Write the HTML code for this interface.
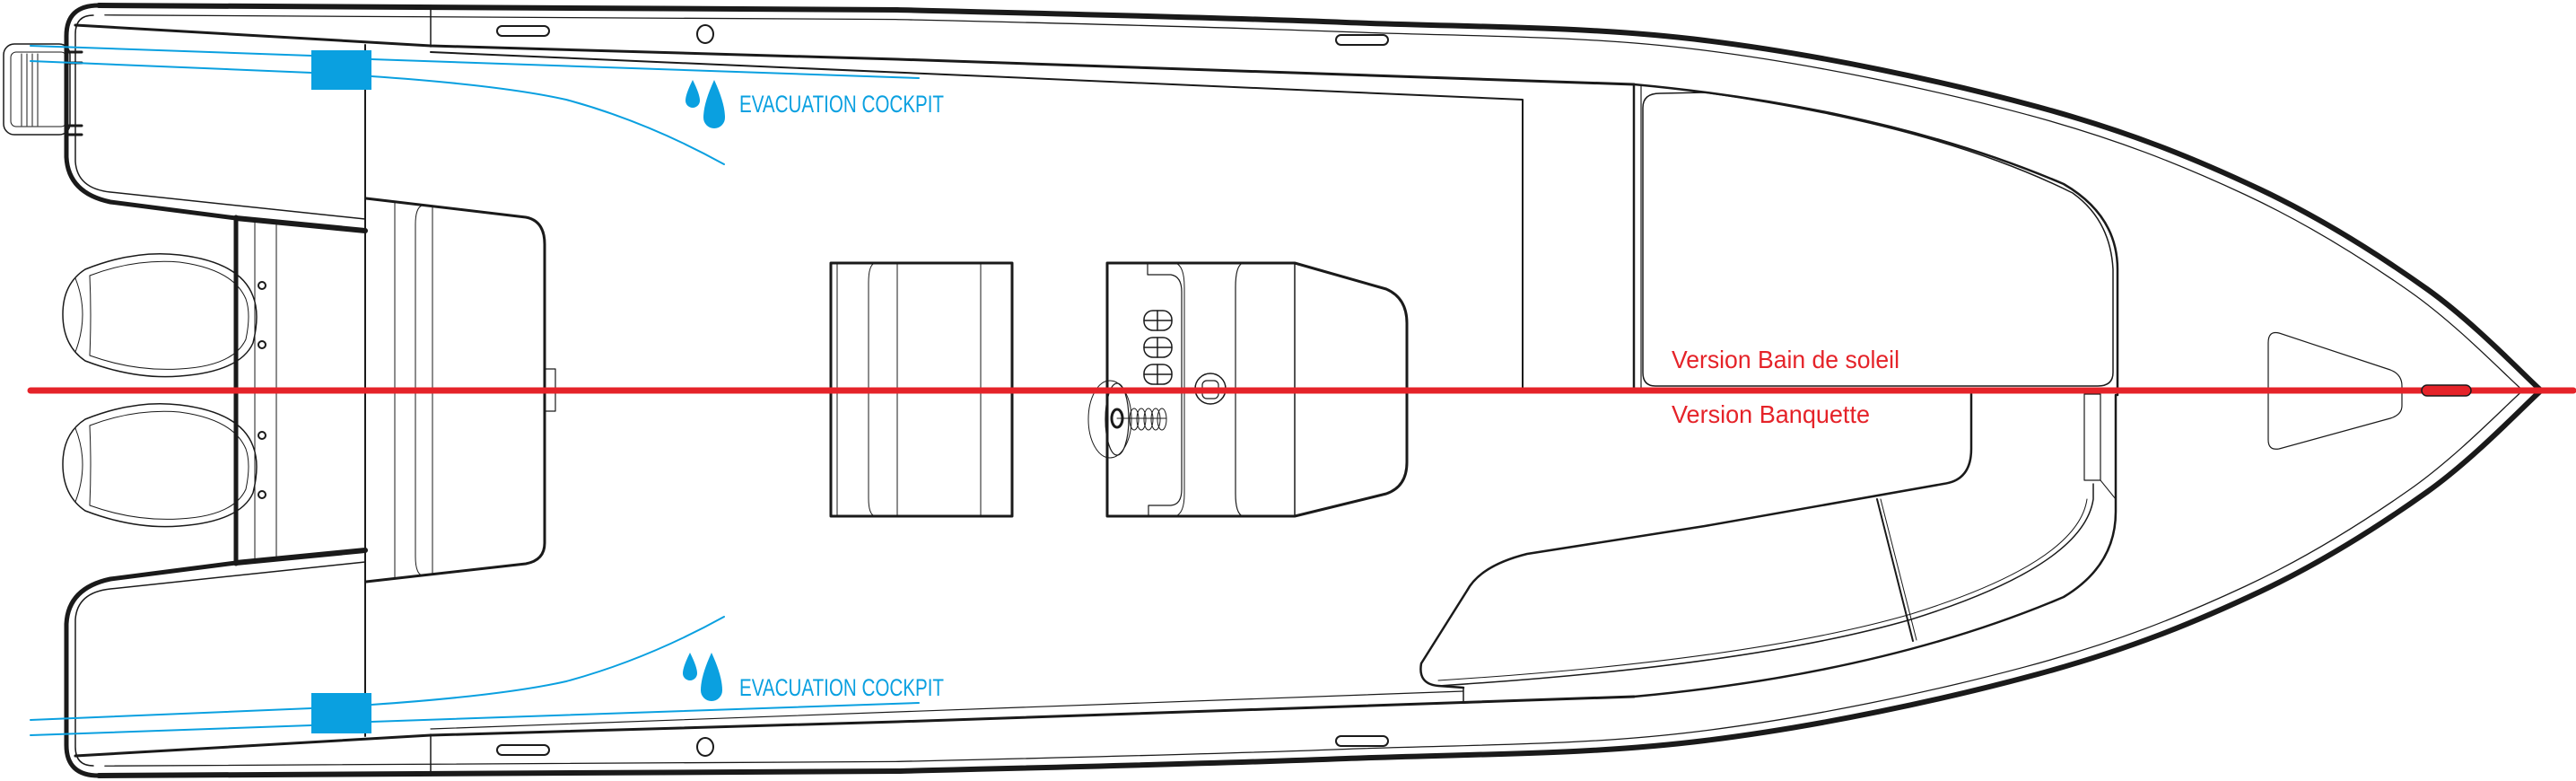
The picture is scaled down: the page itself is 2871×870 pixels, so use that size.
<!DOCTYPE html>
<html><head><meta charset="utf-8"><style>
html,body{margin:0;padding:0;background:#fff;}
svg{display:block;}
</style></head><body>
<svg width="2871" height="870" viewBox="0 0 2871 870" xmlns="http://www.w3.org/2000/svg" fill="none" stroke="#1a1a1a" stroke-linejoin="round" stroke-linecap="round">
<defs>
<path id="hullcurve" d="M110,6 L1000,11 C1083,13 1350,19 1500,25 C1650,30.7 1771,29 1900,45 C2028,60.7 2168,91 2271,119 C2374,147 2447,177 2519,211 C2591,245 2653,285 2705,322 C2757,359 2811,416 2832,435"/>
</defs>
<!-- mirrored halves -->
<g id="half">
  <path d="M130,6 L110,6 Q74,6 74,40 L74,175 Q76,215 123,225 L263,243" stroke-width="5"/>
  <path d="M263,243 L407,257" stroke-width="6"/>
  <use href="#hullcurve" stroke-width="6"/>
  <use href="#hullcurve" stroke-width="1.3" transform="matrix(0.99 0 0 0.975 8 10.9)"/>
  <path d="M104,17 Q84,17 84,38 L84,180 Q86,210 123,214 L407,244" stroke-width="1.5"/>
  <line x1="480" y1="6" x2="480" y2="52" stroke-width="1.5"/>
  <path d="M84,28 L480,51 L1000,66 L1821,94" stroke-width="3"/>
  <rect x="554" y="29" width="58" height="11" rx="5.5" stroke-width="2"/>
  <ellipse cx="786" cy="38" rx="9" ry="10" stroke-width="2"/>
  <rect x="1489" y="39" width="58" height="11" rx="5.5" stroke-width="2"/>
</g>
<use href="#half" transform="matrix(1 0 0 -1 0 870)"/>

<!-- ladder -->
<rect x="4" y="49" width="74" height="101" rx="12" stroke-width="1.5"/>
<rect x="12" y="58" width="62" height="83" rx="6" stroke-width="1"/>
<g stroke-width="1"><line x1="24" y1="60" x2="24" y2="140"/><line x1="30" y1="60" x2="30" y2="140"/><line x1="36" y1="60" x2="36" y2="140"/><line x1="42" y1="60" x2="42" y2="140"/></g>
<g stroke-width="3"><line x1="74" y1="58" x2="91" y2="58"/><line x1="74" y1="70" x2="91" y2="70"/><line x1="74" y1="140" x2="91" y2="140"/><line x1="74" y1="150" x2="91" y2="150"/></g>

<!-- transom / motors -->
<line x1="263" y1="242" x2="263" y2="628" stroke-width="5"/>
<line x1="284" y1="248" x2="284" y2="624" stroke-width="1"/>
<line x1="308" y1="248" x2="308" y2="624" stroke-width="1"/>
<line x1="407" y1="50" x2="407" y2="820" stroke-width="2"/>
<g id="motor" stroke-width="1.5">
  <path d="M95,300 Q150,278 200,284 Q268,292 282,330 Q290,350 282,382 Q268,414 200,419 Q150,423 95,402 Q70,385 70,350 Q70,316 95,300 Z"/>
  <path d="M100,307 Q150,288 200,292 Q260,300 274,333 Q280,350 274,378 Q260,408 200,411 Q150,414 100,396 Q102,350 100,307 Z" stroke-width="1"/>
  <path d="M84,310 Q100,350 84,392" stroke-width="1"/>
  <circle cx="292" cy="318" r="4" stroke-width="2"/>
  <circle cx="292" cy="384" r="4" stroke-width="2"/>
</g>
<use href="#motor" transform="translate(0,167)"/>

<!-- stern bench -->
<path d="M408,221 L586,242 Q607,246 607,272 L607,605 Q607,624 586,628 L408,648" stroke-width="3"/>
<line x1="440" y1="225" x2="440" y2="644" stroke-width="1"/>
<path d="M470,229 Q463,232 463,250 L463,620 Q463,638 470,641" stroke-width="1"/>
<line x1="482" y1="230" x2="482" y2="640" stroke-width="1"/>
<rect x="607" y="411" width="12" height="47" stroke-width="1.2"/>

<!-- seat box -->
<rect x="926" y="293" width="202" height="282" stroke-width="3"/>
<line x1="933" y1="293" x2="933" y2="575" stroke-width="1"/>
<path d="M975,293 Q968,295 968,315 L968,555 Q968,573 975,575" stroke-width="1"/>
<line x1="1000" y1="293" x2="1000" y2="575" stroke-width="1"/>
<line x1="1093" y1="293" x2="1093" y2="575" stroke-width="1"/>

<!-- console -->
<path d="M1234,293 L1443,293 L1545,322 Q1568,332 1568,360 L1568,515 Q1568,542 1545,550 L1443,575 L1234,575 Z" stroke-width="3"/>
<line x1="1443" y1="293" x2="1443" y2="575" stroke-width="1.5"/>
<path d="M1279,293 L1279,306 L1305,306 Q1317,308 1317,325 L1317,545 Q1317,562 1305,563 L1280,563 L1280,575" stroke-width="1.2"/>
<path d="M1310,293 Q1320,296 1320,320 L1320,550 Q1320,572 1310,575" stroke-width="1"/>
<path d="M1385,293 Q1377,296 1377,320 L1377,550 Q1377,572 1385,575" stroke-width="1.2"/>
<g stroke-width="1.5">
  <rect x="1275" y="346" width="31" height="22" rx="10"/><line x1="1290" y1="346" x2="1290" y2="368"/><line x1="1275" y1="357" x2="1306" y2="357"/>
  <rect x="1275" y="376" width="31" height="22" rx="10"/><line x1="1290" y1="376" x2="1290" y2="398"/><line x1="1275" y1="387" x2="1306" y2="387"/>
  <rect x="1275" y="406" width="31" height="22" rx="10"/><line x1="1290" y1="406" x2="1290" y2="428"/><line x1="1275" y1="417" x2="1306" y2="417"/>
</g>
<circle cx="1349" cy="433" r="17" stroke-width="1.5"/>
<rect x="1340" y="424" width="18" height="20" rx="5" stroke-width="1.2"/>
<ellipse cx="1237" cy="467" rx="24" ry="43" stroke-width="1"/>
<ellipse cx="1245" cy="467" rx="13" ry="40" stroke-width="1.2"/>
<ellipse cx="1245" cy="466" rx="6" ry="10" stroke-width="3"/>
<g stroke-width="1"><ellipse cx="1264" cy="467" rx="5" ry="12"/><ellipse cx="1272" cy="467" rx="5" ry="12"/><ellipse cx="1280" cy="467" rx="5" ry="12"/><ellipse cx="1288" cy="467" rx="5" ry="12"/><ellipse cx="1295" cy="467" rx="5" ry="12"/><line x1="1245" y1="466" x2="1300" y2="466"/></g>

<!-- deck top line -->
<path d="M480,58 L1697,111 L1697,435" stroke-width="2"/>
<line x1="1821" y1="94" x2="1821" y2="435" stroke-width="2.5"/>
<line x1="1829" y1="96" x2="1829" y2="435" stroke-width="1.2"/>
<!-- sunbed -->
<path d="M1821,94 Q2100,120 2300,205 Q2360,240 2360,300 L2360,440" stroke-width="2.5"/>
<path d="M1850,104 L1900,103 Q2160,140 2310,215 Q2352,245 2355,300 L2355,415 Q2355,430 2338,430 L1845,430 Q1831,430 1831,415 L1831,120 Q1831,104 1850,104 Z" stroke-width="1.5"/>

<!-- banquette -->
<path d="M2197,439 L2197,500 Q2197,535 2166,539 L1900,586 L1702,617 Q1650,630 1635,658 L1584,739 Q1580,762 1603,764 L1631,766" stroke-width="2.5"/>
<path d="M1821,776 Q2100,750 2300,665 Q2358,630 2358,570 L2358,440" stroke-width="2.5"/>
<path d="M1631,766 L1631,783 L1821,776" stroke-width="1.5"/>
<path d="M1603,764 Q1950,742 2130,690 Q2322,630 2333,556 L2333,539" stroke-width="1.5"/>
<path d="M1603,758 Q1950,736 2130,684 Q2316,626 2326,556" stroke-width="1"/>
<rect x="2323" y="439" width="18" height="96" stroke-width="1.2"/>
<line x1="2341" y1="535" x2="2358" y2="556" stroke-width="1"/>
<path d="M2092,556 L2132,714" stroke-width="2"/>
<path d="M2096,556 L2136,713" stroke-width="1"/>
<line x1="480" y1="812" x2="1631" y2="770" stroke-width="1.2"/>

<!-- bow hatch -->
<path d="M2540,371 L2664,412 Q2677,417 2677,430 L2677,452 Q2677,462 2664,466 L2540,500 Q2528,502 2528,490 L2528,382 Q2528,368 2540,371 Z" stroke-width="1.2"/>

<!-- blue drainage -->
<g stroke="#0aa0e0" stroke-width="2">
  <path d="M34,51 L347,62"/><path d="M414,66 L1024,87"/>
  <path d="M34,68 L347,81"/><path d="M414,85 Q560,95 631,111 Q720,135 807,183"/>
  <path d="M34,819 L347,808"/><path d="M414,804 L1024,783"/>
  <path d="M34,802 L347,789"/><path d="M414,785 Q560,775 631,759 Q720,735 807,687"/>
</g>
<g fill="#0aa0e0" stroke="none">
  <rect x="347" y="56" width="67" height="44"/>
  <rect x="347" y="772" width="67" height="45"/>
  <path d="M772,89 Q764,105 764,112 A8,8 0 0 0 780,112 Q780,105 772,89 Z"/>
  <path d="M796,89 Q784,115 784,131 A12,12 0 0 0 808,131 Q808,115 796,89 Z"/>
  <path d="M769,727 Q761,743 761,750 A8,8 0 0 0 777,750 Q777,743 769,727 Z"/>
  <path d="M793,727 Q781,753 781,769 A12,12 0 0 0 805,769 Q805,753 793,727 Z"/>
</g>
<g fill="#0aa0e0" stroke="none" font-family="'Liberation Sans Narrow','Liberation Sans',sans-serif" font-size="27">
  <text x="824" y="125" textLength="228" lengthAdjust="spacingAndGlyphs">EVACUATION COCKPIT</text>
  <text x="824" y="775" textLength="228" lengthAdjust="spacingAndGlyphs">EVACUATION COCKPIT</text>
</g>

<!-- red line -->
<line x1="34" y1="435" x2="2868" y2="435" stroke="#e52329" stroke-width="7" stroke-linecap="round"/>
<rect x="2699" y="429" width="55" height="12" rx="6" fill="#e52329" stroke="#1a1a1a" stroke-width="1.5"/>
<g fill="#e52329" stroke="none" font-family="'Liberation Sans',sans-serif" font-size="28">
  <text x="1863" y="410" textLength="254" lengthAdjust="spacingAndGlyphs">Version Bain de soleil</text>
  <text x="1863" y="471" textLength="221" lengthAdjust="spacingAndGlyphs">Version Banquette</text>
</g>
</svg>
</body></html>
